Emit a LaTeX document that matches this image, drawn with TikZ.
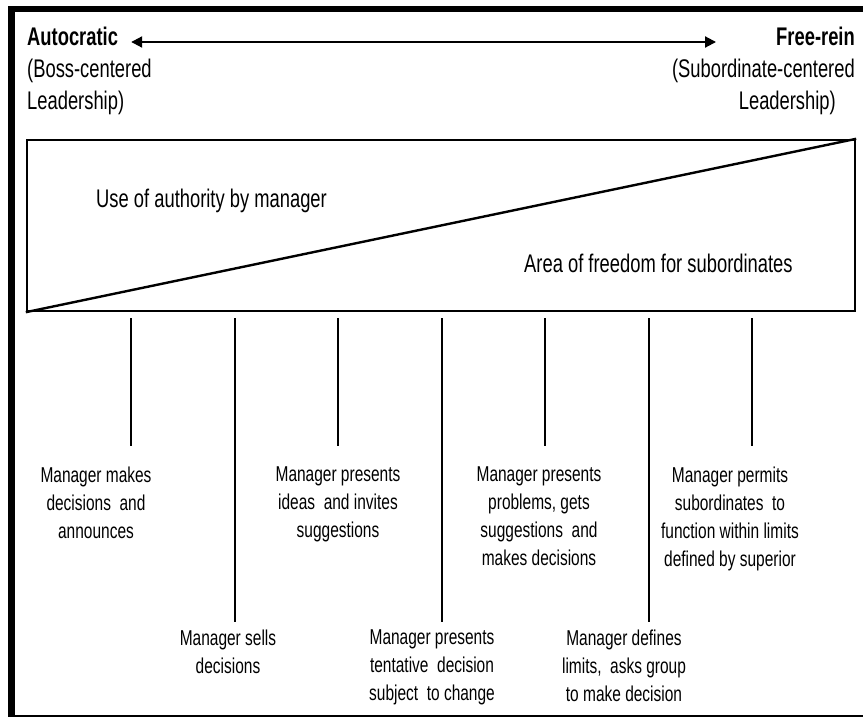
\documentclass[tikz,border=0pt]{standalone}
\usepackage{fontspec}
\setmainfont{Liberation Sans}[FakeStretch=0.72]
\usetikzlibrary{arrows.meta,positioning,calc}

\begin{document}
\begin{tikzpicture}[
    x=1pt, y=1pt,
    frame/.style={draw, line width=6.5pt},
    scalebox/.style={rectangle, draw, line width=2.4pt, minimum width=828pt, minimum height=171pt, inner sep=0pt},
    head/.style={inner sep=0pt, font=\fontsize{25.5}{32}\selectfont},
    area/.style={inner sep=0pt, anchor=base west, font=\fontsize{25.5}{32}\selectfont},
    choice/.style={inner sep=0pt, anchor=north, align=center, font=\fontsize{21.5}{28}\selectfont},
    tick/.style={line width=1.6pt},
    upper/.style={tick, shorten >=20.5pt},
    lower/.style={tick, shorten >=7.5pt},
    arrow/.style={{Triangle[length=11pt,width=11pt]}-{Triangle[length=11pt,width=11pt]}, line width=2pt}
]
\useasboundingbox (0,0) rectangle (863,-717);

% Outer frame
\draw[frame] (11.5,-9) rectangle (880,-718);

% Ends of the continuum
\node[head, anchor=base west] (auto) at (27,-46) {\textbf{Autocratic}};
\node[head, anchor=north west, align=left] (autosub) at (27,-58.5) {(Boss-centered\\Leadership)};
\node[head, anchor=base east] (free) at (855,-46) {\textbf{Free-rein}};
\node[head, anchor=north east, align=right] (freesub) at (855,-58.5) {(Subordinate-centered\\Leadership)\hspace*{19pt}};

\draw[arrow] ([xshift=13pt,yshift=4pt]auto.base east) -- ([xshift=-60pt,yshift=4pt]free.base west);

% Scale of leadership behaviour
\node[scalebox] (scale) at (441,-225.5) {};
\draw[line width=2.4pt] (scale.south west) -- (scale.north east);
\node[area] (authority) at (96,-207.5) {Use of authority by manager};
\node[area] (freedom) at (524,-272) {Area of freedom for subordinates};

% Behaviour labels
\node[choice] (tells) at (96,-466.5) {Manager makes\\decisions\ \ and\\announces};
\node[choice] (sells) at (228,-629.5) {Manager sells\\decisions};
\node[choice] (ideas) at (338,-466.5) {Manager presents\\ideas\ \ and invites\\suggestions};
\node[choice] (tentative) at (432,-629.5) {Manager presents\\tentative\ \ decision\\subject\ \ to change};
\node[choice] (problems) at (539,-466.5) {Manager presents\\problems, gets\\suggestions\ \ and\\makes decisions};
\node[choice] (limits) at (624,-629.5) {Manager defines\\limits,\ \ asks group\\to make decision};
\node[choice] (permits) at (730,-466.5) {Manager permits\\subordinates\ \ to\\function within limits\\defined by superior};

% Tick lines under the scale
\coordinate (t1) at (131,-318);
\coordinate (t2) at (235,-318);
\coordinate (t3) at (338,-318);
\coordinate (t4) at (442,-318);
\coordinate (t5) at (545,-318);
\coordinate (t6) at (649,-318);
\coordinate (t7) at (752,-318);

\draw[upper] (t1) -- (t1 |- tells.north);
\draw[lower] (t2) -- (t2 |- sells.north);
\draw[upper] (t3) -- (t3 |- ideas.north);
\draw[lower] (t4) -- (t4 |- tentative.north);
\draw[upper] (t5) -- (t5 |- problems.north);
\draw[lower] (t6) -- (t6 |- limits.north);
\draw[upper] (t7) -- (t7 |- permits.north);

\end{tikzpicture}
\end{document}
